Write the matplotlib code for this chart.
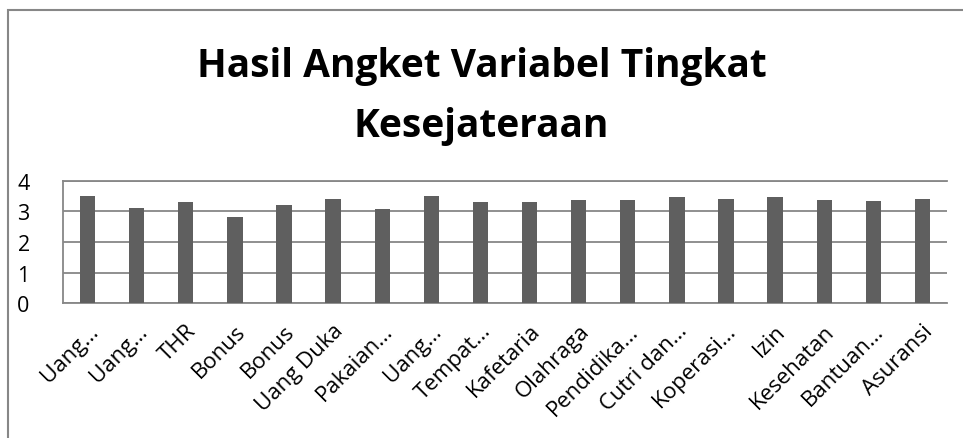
import matplotlib
matplotlib.use("Agg")
import matplotlib.pyplot as plt
from matplotlib.patches import Rectangle

categories = ["Uang…", "Uang…", "THR", "Bonus", "Bonus", "Uang Duka", "Pakaian…",
              "Uang…", "Tempat…", "Kafetaria", "Olahraga", "Pendidika…",
              "Cutri dan…", "Koperasi…", "Izin", "Kesehatan", "Bantuan…", "Asuransi"]
values = [3.49, 3.11, 3.30, 2.83, 3.21, 3.39, 3.08, 3.49, 3.32,
          3.32, 3.37, 3.37, 3.46, 3.39, 3.48, 3.37, 3.34, 3.40]
yticks = [0, 1, 2, 3, 4]

plt.rcParams['font.family'] = ['Open Sans', 'DejaVu Sans']

fig = plt.figure(figsize=(9.63, 4.39), dpi=100)
fig.patches.append(Rectangle((8 / 963, -0.1), 1.2, (439 - 11) / 439 + 0.1,
                             transform=fig.transFigure, fill=False,
                             edgecolor='#878787', linewidth=1.5))

ax = fig.add_axes([63 / 963, (439 - 304.3) / 439, (947 - 63) / 963, (304.3 - 181.7) / 439])
x = range(len(categories))
ax.bar(x, values, width=0.31, color='#5f5f5f', zorder=3)

ax.set_xlim(-0.5, len(categories) - 0.5)
ax.set_ylim(0, 4)
ax.set_yticks(yticks)
ax.set_yticklabels([str(t) for t in yticks], fontsize=15.5)
ax.yaxis.grid(True, color='#878787', linewidth=1.3, zorder=0)
ax.tick_params(axis='y', length=0, pad=24)
ax.tick_params(axis='x', length=0, pad=12)
ax.set_xticks(list(x))
ax.set_xticklabels(categories, rotation=45, ha='right', va='top',
                   rotation_mode='anchor', fontsize=16)

ax.spines['right'].set_visible(False)
for side in ['left', 'bottom', 'top']:
    ax.spines[side].set_color('#878787')
    ax.spines[side].set_linewidth(1.3)

fig.text(0.5, (439 - 66) / 439, "Hasil Angket Variabel Tingkat", ha='center', va='center',
         fontsize=28, fontweight='bold')
fig.text(0.5, (439 - 127) / 439, "Kesejateraan", ha='center', va='center',
         fontsize=28, fontweight='bold')

fig.savefig("out.png", dpi=100)
